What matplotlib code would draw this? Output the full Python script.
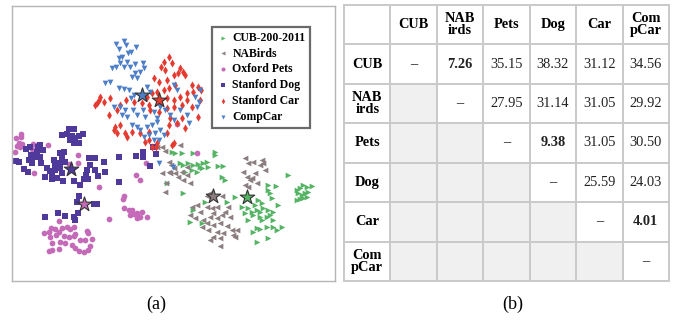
import matplotlib
matplotlib.use("Agg")
import matplotlib.pyplot as plt
from matplotlib.patches import Rectangle

plt.rcParams['font.family'] = ['Liberation Serif', 'DejaVu Serif']

# 2-D embedding of features (image y grows downward)
cub_pts = [(515, 455), (525, 460), (545, 460), (580, 460), (645, 455), (645, 465), (550, 495), (565, 490),
           (580, 495), (595, 492), (605, 505), (610, 490), (620, 485), (625, 500), (655, 498), (670, 498),
           (555, 515), (575, 510), (590, 515), (665, 530), (675, 540), (500, 550), (550, 578), (615, 605),
           (680, 605), (705, 592), (580, 630), (570, 665), (605, 670), (725, 620), (540, 490), (600, 500),
           (805, 555), (828, 558), (803, 570), (810, 580), (815, 595), (835, 615), (775, 600), (785, 610),
           (765, 615), (745, 625), (755, 635), (770, 630), (780, 635), (790, 625), (805, 630), (820, 635),
           (735, 640), (760, 645), (780, 650), (800, 650), (810, 645), (745, 660), (785, 660), (820, 660),
           (770, 685), (780, 688), (800, 680), (820, 680), (830, 690), (845, 680), (760, 695), (805, 715),
           (770, 725), (865, 525), (890, 570), (900, 565), (910, 555), (922, 560), (935, 558), (895, 580),
           (905, 585), (915, 580), (925, 575), (890, 600), (900, 598), (910, 595), (920, 590)]
nabirds_pts = [(485, 442), (540, 435), (505, 485), (512, 495), (520, 505), (505, 515), (525, 520), (545, 515),
               (560, 525), (535, 532), (550, 540), (570, 550), (495, 575), (498, 550), (560, 500), (470, 440),
               (493, 452), (485, 520), (510, 520), (630, 578), (620, 588), (665, 588), (590, 615), (575, 620),
               (600, 635), (620, 620), (635, 625), (650, 620), (640, 640), (630, 650), (650, 655), (665, 645),
               (675, 635), (570, 645), (585, 655), (610, 660), (690, 650), (620, 670), (640, 675), (660, 670),
               (680, 678), (605, 682), (625, 690), (650, 695), (670, 700), (640, 710), (660, 715), (630, 720),
               (695, 690), (705, 710), (660, 738), (685, 620), (735, 475), (745, 490), (760, 485), (785, 480),
               (780, 495), (790, 490), (795, 510), (730, 515), (740, 530), (750, 540), (765, 520), (755, 535),
               (770, 548), (735, 555), (745, 560), (710, 690), (700, 705)]
pets_pts = [(48, 415), (62, 402), (62, 410), (55, 430), (65, 432), (50, 438), (45, 455), (58, 440), (98, 432),
            (110, 435), (142, 435), (95, 448), (102, 520), (234, 465), (233, 490), (205, 493), (295, 560),
            (370, 588), (438, 489), (408, 525), (420, 540), (591, 459), (530, 372), (368, 598), (372, 625),
            (385, 630), (395, 630), (402, 642), (390, 645), (410, 640), (425, 635), (440, 650), (410, 655),
            (420, 650), (327, 657), (130, 698), (145, 695), (152, 685), (165, 688), (175, 695), (185, 685),
            (200, 682), (210, 688), (220, 680), (177, 662), (260, 692), (262, 700), (150, 710), (168, 705),
            (190, 708), (205, 710), (220, 708), (155, 728), (180, 725), (195, 730), (215, 735), (240, 720),
            (255, 720), (275, 718), (225, 745), (235, 752), (250, 755), (262, 750), (145, 752), (155, 750),
            (175, 748), (268, 738), (225, 702)]
dog_pts = [(205, 388), (220, 388), (185, 405), (200, 402), (215, 408), (235, 408), (248, 403), (210, 420),
           (225, 415), (220, 430), (235, 428), (78, 448), (90, 440), (112, 440), (120, 435), (128, 450),
           (110, 455), (92, 465), (105, 472), (120, 470), (85, 480), (95, 488), (122, 488), (48, 482),
           (55, 485), (70, 508), (82, 515), (160, 480), (165, 495), (180, 460), (190, 455), (185, 475),
           (195, 485), (178, 490), (140, 505), (148, 512), (155, 518), (165, 510), (180, 505), (185, 520),
           (170, 535), (155, 538), (135, 530), (188, 543), (222, 542), (240, 555), (250, 538), (262, 538),
           (265, 475), (285, 475), (270, 495), (285, 510), (292, 528), (310, 485), (315, 515), (260, 510),
           (258, 525), (355, 470), (355, 545), (235, 588), (230, 605), (280, 612), (290, 612), (135, 650),
           (172, 640), (195, 648), (220, 652), (225, 660), (232, 640), (408, 468), (429, 456), (429, 471),
           (450, 498), (459, 441), (468, 462)]
car_pts = [(505, 170), (490, 185), (515, 190), (483, 200), (495, 210), (540, 205), (548, 215), (535, 220),
           (555, 225), (520, 225), (500, 240), (460, 235), (475, 245), (525, 255), (505, 265), (490, 270),
           (470, 275), (455, 280), (440, 290), (575, 255), (595, 260), (603, 270), (580, 275), (560, 280),
           (540, 290), (520, 300), (500, 295), (480, 305), (600, 300), (300, 290), (285, 315), (295, 300),
           (310, 305), (330, 295), (325, 345), (350, 330), (360, 315), (378, 300), (400, 305), (445, 315),
           (425, 310), (450, 330), (475, 335), (500, 325), (520, 320), (545, 315), (560, 300), (575, 320),
           (345, 380), (360, 375), (375, 400), (395, 395), (420, 400), (445, 395), (505, 375), (530, 370),
           (545, 355), (555, 385), (595, 350), (510, 355), (350, 400), (380, 410), (435, 425), (455, 440),
           (470, 430), (445, 420), (500, 400), (520, 430), (468, 441), (516, 435), (290, 310), (340, 390)]
compcar_pts = [(348, 133), (370, 122), (378, 135), (357, 148), (384, 158), (408, 140), (392, 155), (355, 175),
               (365, 172), (380, 185), (360, 190), (348, 200), (335, 205), (370, 200), (390, 200), (405, 192),
               (428, 190), (430, 205), (420, 215), (405, 220), (395, 230), (410, 235), (330, 245), (315, 248),
               (355, 265), (370, 268), (385, 270), (400, 285), (392, 295), (440, 262), (450, 275), (340, 320),
               (358, 320), (375, 330), (398, 330), (365, 345), (380, 352), (410, 345), (428, 330), (435, 350),
               (460, 335), (470, 355), (480, 320), (495, 330), (510, 345), (520, 360), (540, 330), (560, 345),
               (568, 368), (590, 320), (598, 305), (585, 290), (600, 270), (395, 375), (410, 380), (420, 390),
               (440, 382), (455, 375), (470, 365), (480, 390), (490, 405), (465, 400), (445, 405), (430, 410),
               (460, 420), (475, 420), (520, 255), (530, 270), (477, 489), (519, 501)]

# class centroids
centers = {'CUB-200-2011': (740, 592), 'NABirds': (638, 588), 'Oxford Pets': (250, 613),
           'Stanford Dog': (213, 508), 'Stanford Car': (475, 300), 'CompCar': (425, 285)}

datasets = ['CUB-200-2011', 'NABirds', 'Oxford Pets', 'Stanford Dog', 'Stanford Car', 'CompCar']
points = [cub_pts, nabirds_pts, pets_pts, dog_pts, car_pts, compcar_pts]
colors = ['#55b464', '#8c7e80', '#c46ab8', '#4f3a9c', '#e53a2f', '#4d7fc9']
markers = ['>', '<', 'o', 's', 'd', 'v']

# distance table
col_names = ['CUB', 'NAB\nirds', 'Pets', 'Dog', 'Car', 'Com\npCar']
dist = [
    ['–', '7.26', '35.15', '38.32', '31.12', '34.56'],
    [None, '–', '27.95', '31.14', '31.05', '29.92'],
    [None, None, '–', '9.38', '31.05', '30.50'],
    [None, None, None, '–', '25.59', '24.03'],
    [None, None, None, None, '–', '4.01'],
    [None, None, None, None, None, '–'],
]
bold_vals = ['7.26', '9.38', '4.01']

fig = plt.figure(figsize=(6.81, 3.22), dpi=100)

ax = fig.add_axes([12 / 681, 1 - 281 / 322, 323 / 681, 275 / 322])
for name, pts, c, m in zip(datasets, points, colors, markers):
    xs = [p[0] for p in pts]
    ys = [p[1] for p in pts]
    ax.scatter(xs, ys, s=17, c=c, marker=m, linewidths=0, label=name)
for name, c in zip(datasets, colors):
    cx, cy = centers[name]
    ax.scatter([cx], [cy], s=120, c=c, marker='*', edgecolors='#333333', linewidths=0.8, zorder=5)
ax.set_xlim(35, 1005)
ax.set_ylim(843, 18)
ax.set_xticks([])
ax.set_yticks([])
for sp in ax.spines.values():
    sp.set_color('#b5b5b5')
    sp.set_linewidth(1.0)
leg = ax.legend(loc='upper right', bbox_to_anchor=(0.923, 0.924), borderaxespad=0, fancybox=False,
                framealpha=1, edgecolor='#6a6a6a', prop={'weight': 'bold', 'size': 8.5},
                handletextpad=0.3, borderpad=0.4, labelspacing=0.33, handlelength=1.0, markerscale=0.7)
leg.get_frame().set_linewidth(1.6)

# table panel
tx = fig.add_axes([344 / 681, 1 - 281 / 322, 325 / 681, 276 / 322])
tx.set_xlim(0, 7)
tx.set_ylim(7, 0)
tx.axis('off')
for r in range(6):
    for c in range(6):
        if c < r:
            tx.add_patch(Rectangle((c + 1, r + 1), 1, 1, facecolor='#f0f0f0', edgecolor='none'))
for k in range(8):
    tx.plot([k, k], [0, 7], color='#c9c9c9', lw=1.4, clip_on=False)
    tx.plot([0, 7], [k, k], color='#c9c9c9', lw=1.4, clip_on=False)
for i, name in enumerate(col_names):
    tx.text(i + 1.5, 0.5, name, ha='center', va='center', fontsize=10.4, fontweight='bold', linespacing=0.95)
    tx.text(0.5, i + 1.5, name, ha='center', va='center', fontsize=10.4, fontweight='bold', linespacing=0.95)
for r, row in enumerate(dist):
    for c, val in enumerate(row):
        if val is None:
            continue
        w = 'bold' if (val in bold_vals or val == '–') else 'normal'
        tx.text(c + 1.5, r + 1.5, val, ha='center', va='center', fontsize=10.4, fontweight=w, color='#222222')

fig.text(156 / 681, 1 - 304 / 322, '(a)', ha='center', va='center', fontsize=13)
fig.text(513 / 681, 1 - 304 / 322, '(b)', ha='center', va='center', fontsize=13)

fig.savefig('out.png', dpi=100)
